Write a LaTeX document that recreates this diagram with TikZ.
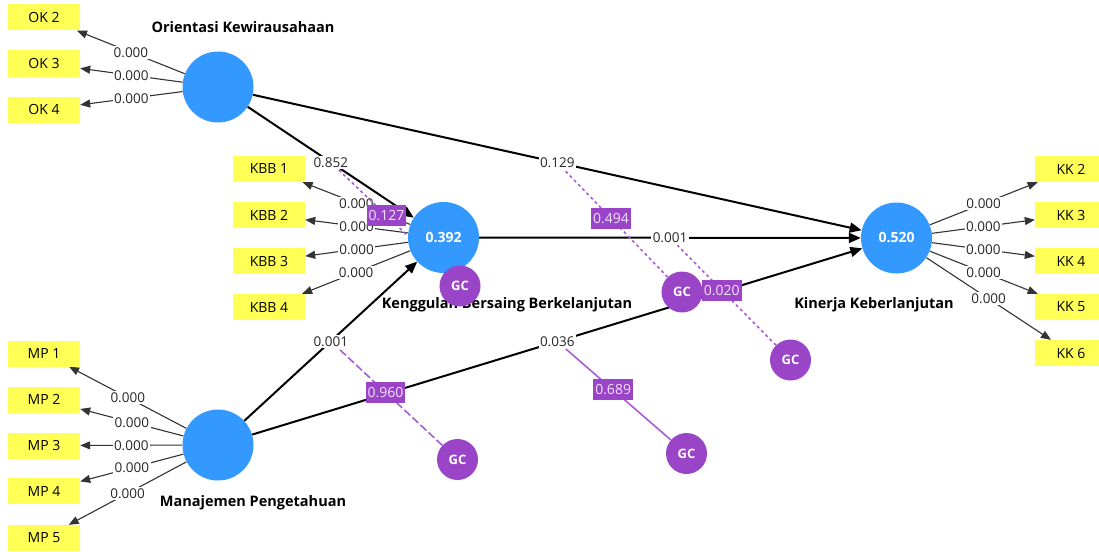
\documentclass[tikz,border=0pt]{standalone}
\usepackage{fontspec}
\setmainfont{Open Sans}
\usetikzlibrary{arrows.meta,backgrounds}
\definecolor{lvblue}{HTML}{3399FF}
\definecolor{indyellow}{HTML}{FFFF55}
\definecolor{gcpurple}{HTML}{9A44C8}
\definecolor{modcolor}{HTML}{A95CD8}
\definecolor{modtext}{HTML}{F0E2FA}

\begin{document}
\begin{tikzpicture}[x=1pt, y=-1pt, line join=round]
  \tikzset{
    latent/.style={circle, fill=lvblue, minimum size=71pt, inner sep=0pt, text=white,
      font=\bfseries\fontsize{14pt}{16pt}\selectfont},
    gc/.style={circle, fill=gcpurple, minimum size=41pt, inner sep=0pt, text=white,
      font=\bfseries\fontsize{13pt}{15pt}\selectfont},
    ind/.style={rectangle, fill=indyellow, minimum width=72pt, minimum height=26pt, inner sep=0pt,
      font=\fontsize{14pt}{16pt}\selectfont},
    lvname/.style={font=\bfseries\fontsize{14.5pt}{17pt}\selectfont},
    load/.style={draw=black!80, line width=1.1pt, -{Triangle[length=10pt, width=8pt]}},
    struct/.style={draw=black, line width=2pt, -{Triangle[length=12pt, width=10pt]}},
    coef/.style={fill=white, inner sep=1.5pt, text=black!85, font=\fontsize{13.5pt}{15pt}\selectfont},
    modbox/.style={fill=gcpurple, text=modtext, inner xsep=2pt, inner ysep=0pt, minimum height=21pt,
      font=\fontsize{14pt}{15pt}\selectfont},
    modline/.style={draw=modcolor, line width=1.6pt, line cap=butt},
    moddot/.style={modline, dash pattern=on 3pt off 3pt},
    moddash/.style={modline, dash pattern=on 8pt off 3pt}
  }
  \useasboundingbox (0,0) rectangle (1099,551);

  % konstruk laten
  \node[latent] (ok) at (218,87) {};
  \node[latent] (kbb) at (443.5,237.5) {0.392};
  \node[latent] (kk) at (896.5,238) {0.520};
  \node[latent] (mp) at (218,445) {};

  \node[lvname] (okname) at (243,27) {Orientasi Kewirausahaan};
  \node[lvname] (kbbname) at (507,305) {Kenggulan Bersaing Berkelanjutan};
  \node[lvname] (kkname) at (874,305) {Kinerja Keberlanjutan};
  \node[lvname] (mpname) at (253,503) {Manajemen Pengetahuan};

  % indikator
  \foreach \n/\y in {2/17.5, 3/63.5, 4/109.5}
    \node[ind] (ok\n) at (44,\y) {OK \n};
  \foreach \n/\y in {1/169, 2/215, 3/261, 4/307}
    \node[ind] (kbb\n) at (269,\y) {KBB \n};
  \foreach \n/\y in {2/169, 3/215, 4/261, 5/307, 6/353}
    \node[ind] (kk\n) at (1071,\y) {KK \n};
  \foreach \n/\y in {1/353.5, 2/399.5, 3/445.5, 4/491, 5/538}
    \node[ind] (mp\n) at (44,\y) {MP \n};

  % efek moderasi
  \node[gc] (gc1) at (460,286) {GC};
  \node[gc] (gc2) at (682,292) {GC};
  \node[gc] (gc3) at (790.5,360) {GC};
  \node[gc] (gc4) at (457.5,459.5) {GC};
  \node[gc] (gc5) at (686.5,453.5) {GC};

  \begin{scope}[on background layer]
    % outer loadings
    \foreach \n in {2,3,4}
      \draw[load] (ok) -- node[coef] {0.000} (ok\n);
    \foreach \n in {1,2,3,4}
      \draw[load] (kbb) -- node[coef] {0.000} (kbb\n);
    \foreach \n in {2,3,4,5,6}
      \draw[load] (kk) -- node[coef] {0.000} (kk\n);
    \foreach \n in {1,2,3,4,5}
      \draw[load] (mp) -- node[coef] {0.000} (mp\n);

    % inner model
    \draw[struct] (ok) -- node[coef] (c1) {0.852} (kbb);
    \draw[struct] (ok) -- node[coef] (c2) {0.129} (kk);
    \draw[struct] (kbb) -- node[coef] (c3) {0.001} (kk);
    \draw[struct] (mp) -- node[coef] (c4) {0.001} (kbb);
    \draw[struct] (mp) -- node[coef] (c5) {0.036} (kk);

    \draw[moddot] (gc1) -- node[modbox, pos=0.55] {0.127} (c1);
    \draw[moddot] (gc2) -- node[modbox, pos=0.55] {0.494} (c2);
    \draw[moddot] (gc3) -- node[modbox, pos=0.55] {0.020} (c3);
    \draw[moddash] (gc4) -- node[modbox, pos=0.55] {0.960} (c4);
    \draw[modline] (gc5) -- node[modbox, pos=0.55] {0.689} (c5);
  \end{scope}
\end{tikzpicture}
\end{document}
